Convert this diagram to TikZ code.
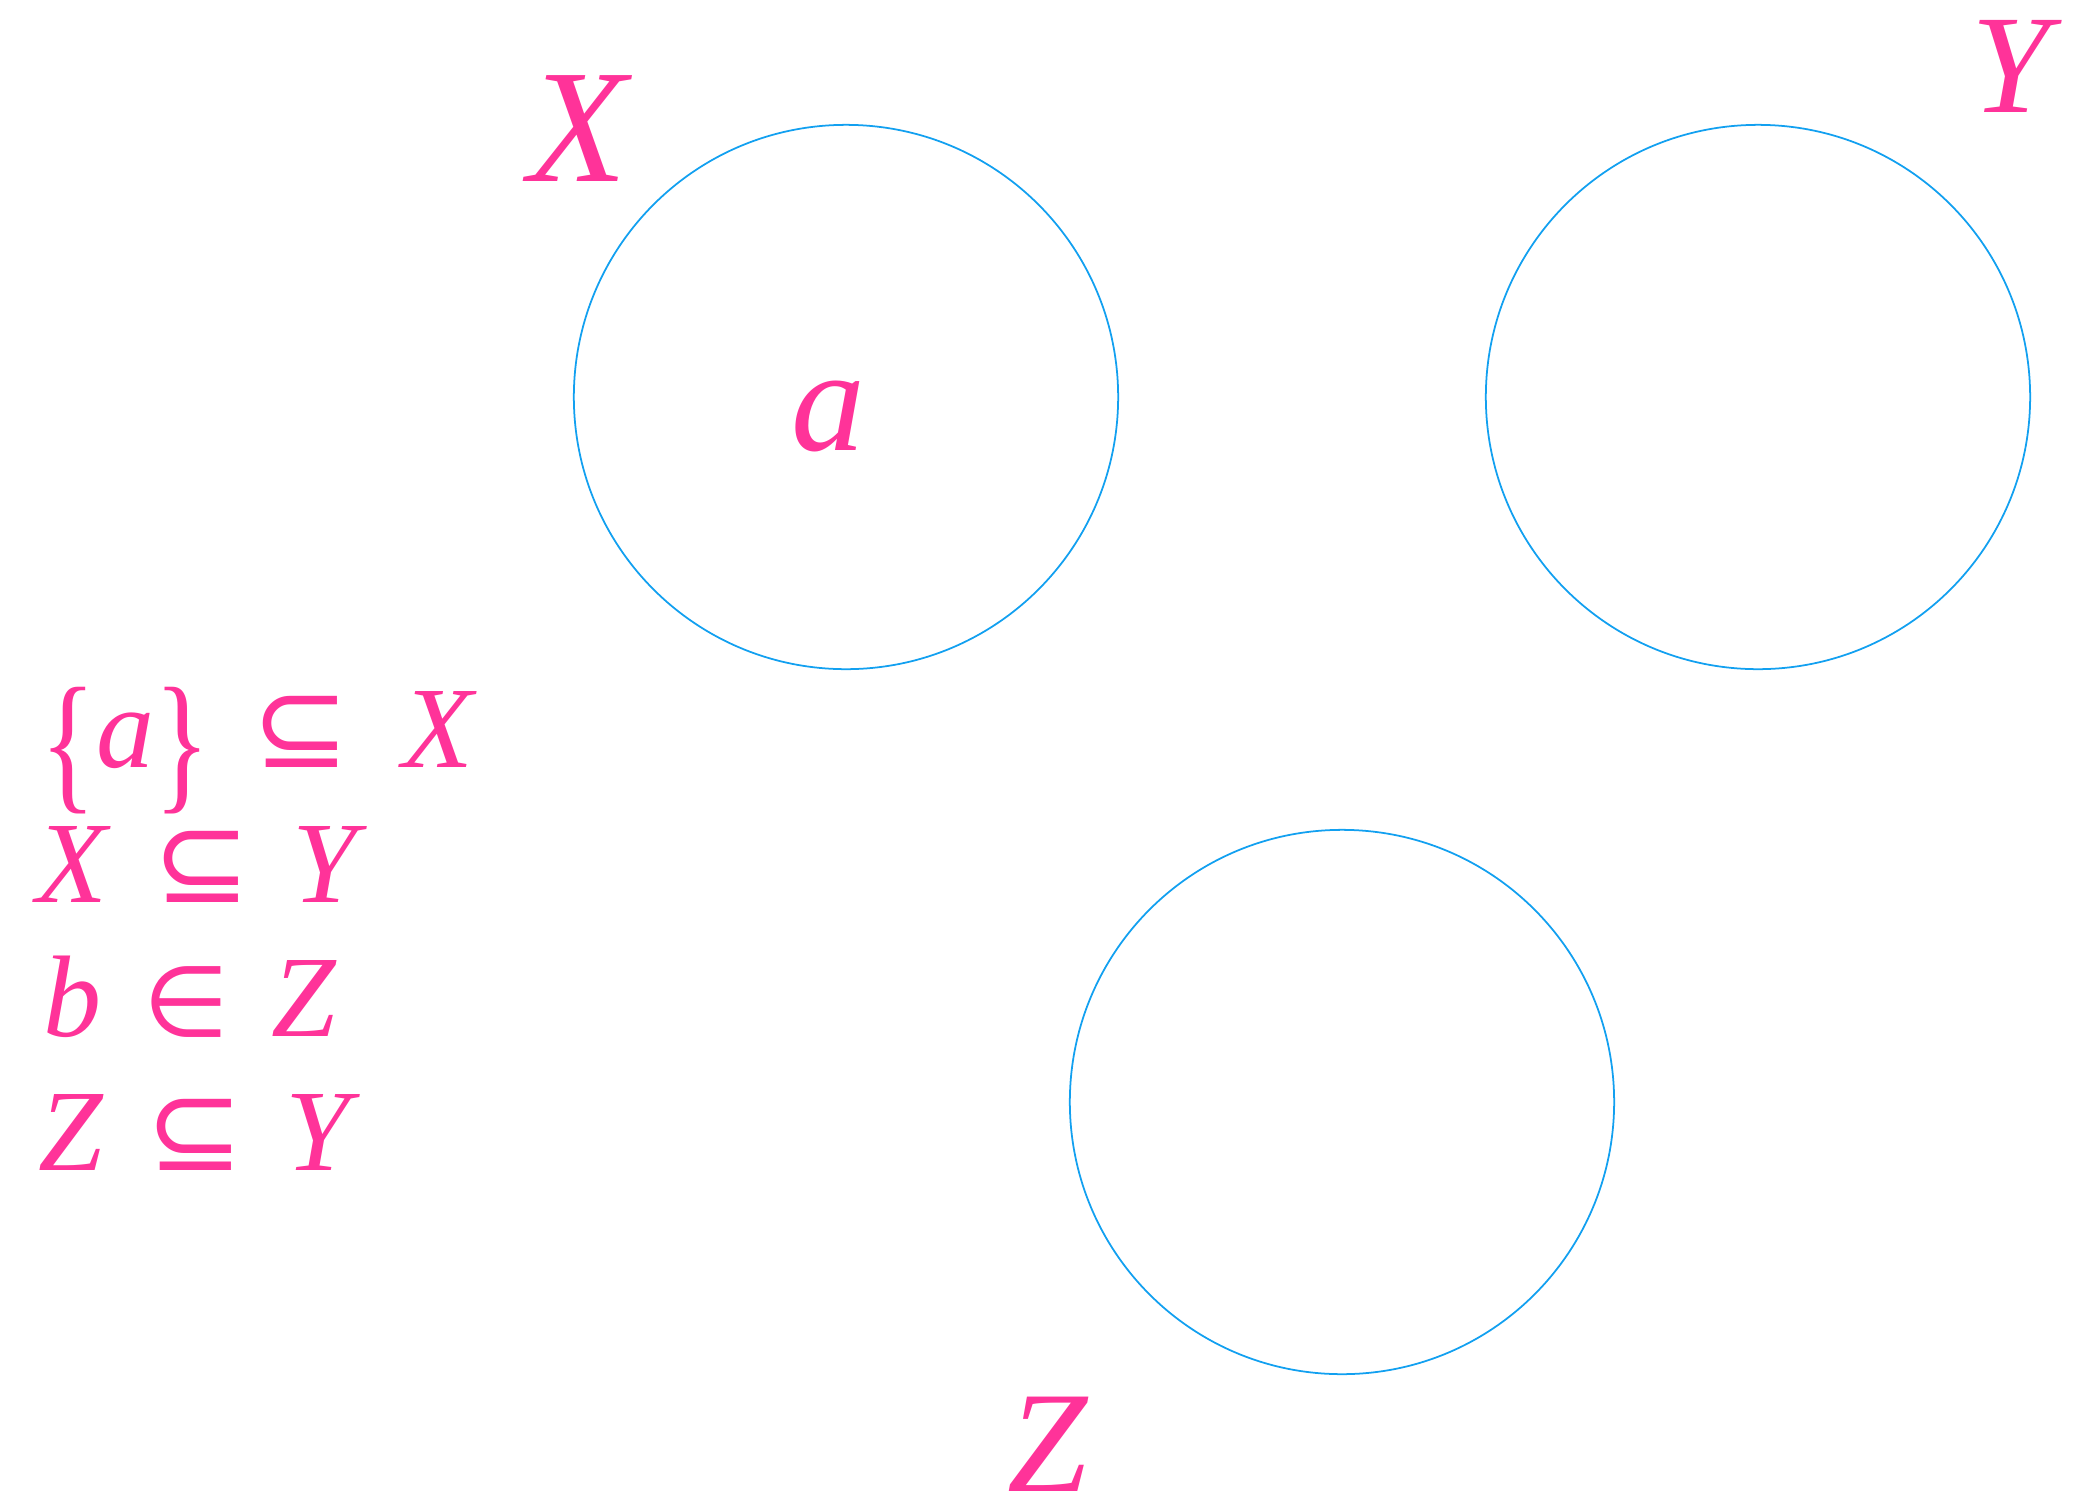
\documentclass[tikz,border=0pt]{standalone}
\usepackage{fontspec}
\setmainfont{Liberation Serif}
\newfontfamily\relsym{DejaVu Sans}
\usepackage{tikz}
\usetikzlibrary{positioning}

\definecolor{setpink}{RGB}{255,51,153}
\definecolor{setblue}{RGB}{18,160,240}

\newcommand{\setsz}[1]{\fontsize{#1}{1.2\dimexpr#1pt\relax}\selectfont}
\newcommand{\rgap}{\hspace{12pt}}
\newcommand{\subs}{{\relsym ⊆}}
\newcommand{\elem}{{\relsym\fontsize{28}{30}\selectfont ∈}}
\newcommand{\tallbr}[1]{\raisebox{-7.5pt}{\scalebox{1}[1.32]{#1}}}

\tikzset{
  setcirc/.style={circle, draw=setblue, line width=0.5pt, inner sep=0pt, minimum size=5.44cm},
  setlab/.style={text=setpink, inner sep=0pt, font=\itshape},
  relline/.style={text=setpink, inner sep=0pt, anchor=base west, font=\setsz{33}}
}

\begin{document}
\begin{tikzpicture}[x=0.01cm, y=-0.01cm]
  \useasboundingbox (0,0) rectangle (2074,1499);
  % the three sets
  \node[setcirc] (circX) at (846,397) {};
  \node[setcirc] (circY) at (1758,397) {};
  \node[setcirc] (circZ) at (1342,1102) {};
  % names of the sets
  \node[setlab, font=\itshape\setsz{46}] (labX) at (578,129) {X};
  \node[setlab, font=\itshape\setsz{40}] (labY) at (2011,66) {Y};
  \node[setlab, font=\itshape\setsz{41}] (labZ) at (1048,1444) {Z};
  \node[setlab, font=\itshape\setsz{42}] (elemA) at (828,416) {a};
  % relations
  \node[relline] (rel1) at (40,767) {\tallbr{\{}\textit{a}\tallbr{\}}\rgap\subs\hspace{15pt}\textit{X}};
  \node[relline] (rel2) at (36,902) {\textit{X}\rgap\subs\rgap\textit{Y}};
  \node[relline] (rel3) at (43,1036) {\textit{b}\rgap\elem\rgap\textit{Z}};
  \node[relline] (rel4) at (38,1170) {\textit{Z}\rgap\subs\rgap\textit{Y}};
\end{tikzpicture}
\end{document}
